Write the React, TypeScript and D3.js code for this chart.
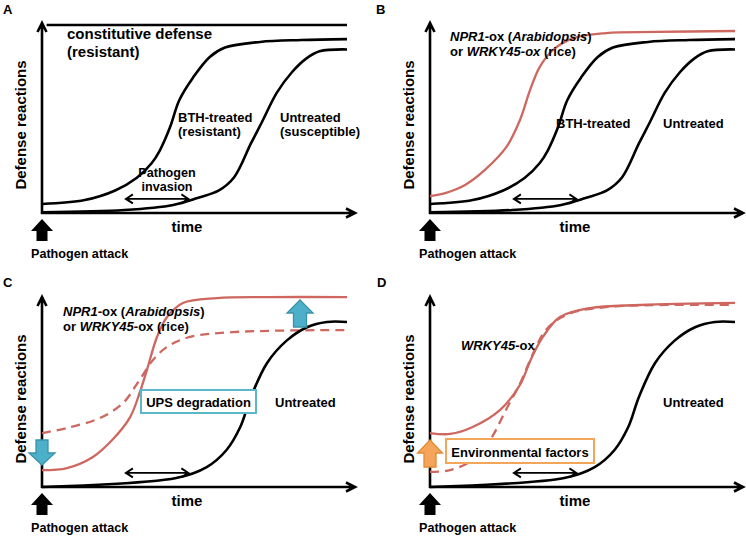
import React from "react";
import * as d3 from "d3";

type P = { t: number; v: number };
const mk = (t: number[], v: number[]): P[] => t.map((tt, i) => ({ t: tt, v: v[i] }));

// time (0-100) and defense level (0-100)
const constitutiveT = [1.5, 100];
const constitutiveV = [100, 100];

const bthT = [0, 14, 24, 31, 36, 38.7, 42, 45, 49.5, 55, 60, 71.5, 85, 100];
const bthV = [4.8, 6.9, 12, 18.6, 26.6, 33.5, 45.7, 60, 72, 83, 88, 91, 92, 92.5];

const untreatedABT = [0, 27, 43, 51, 58, 63, 68.5, 72, 77, 82, 86.5, 91, 100];
const untreatedABV = [0.4, 1.6, 4.3, 8, 12, 19, 37, 48, 64, 75, 82, 86, 87];

const npr1BT = [0, 5, 11.5, 18, 25, 29.5, 32.8, 36, 40.3, 47, 57.7, 74, 100];
const npr1BV = [9, 10.6, 14.9, 22.9, 35, 49.5, 65.4, 77.7, 86.7, 93, 95.7, 96.3, 96.8];

const npr1CT = [0, 8.2, 16.7, 23, 28.9, 32, 34.4, 37.7, 41, 46.2, 57.4, 73.8, 100];
const npr1CV = [9, 10.1, 16, 25, 37.2, 50, 62.2, 79.8, 90.4, 97.9, 100.5, 101, 101];

const npr1DegT = [0, 8.2, 19, 26.6, 32, 36.4, 41, 48.5, 62.6, 100];
const npr1DegV = [28.7, 31.4, 36.7, 44.7, 57, 67.6, 74.5, 79.8, 82.4, 83.5];

const untreatedCDT = [0, 44, 54, 60.5, 65, 68.5, 73.8, 80.3, 86.9, 93.4, 100];
const untreatedCDV = [0, 4.8, 10.6, 19.7, 31.9, 47.9, 66, 78, 85, 87.8, 87.8];

const wrkyEnvT = [0, 6.6, 14, 23, 29.5, 33, 37, 42.6, 52.5, 68.9, 100];
const wrkyEnvV = [28.7, 28.2, 31.9, 41, 54.3, 67.6, 79.8, 90.4, 95.2, 96.8, 97.9];

const wrkyT = [0, 6.6, 14, 19.7, 24.9, 29.5, 33.8, 38, 44.6, 57.7, 100];
const wrkyV = [8, 9, 14.4, 25, 41, 55, 71, 83.5, 91.5, 95.7, 96.8];

const invasionT = [27.5, 48];
const invasionV = 7.5;

const FONT = "'Liberation Sans', Arial, Helvetica, sans-serif";
const RED = "#cd675f";
const BLACK = "#000";

const x = d3.scaleLinear().domain([0, 100]).range([42, 347]);
const y = d3.scaleLinear().domain([0, 100]).range([213, 25]);
const line = d3
  .line<P>()
  .x((d) => x(d.t))
  .y((d) => y(d.v))
  .curve(d3.curveCatmullRom.alpha(0.5));

function Curve({ data, color, dashed, width }: { data: P[]; color: string; dashed?: boolean; width?: number }) {
  return (
    <path
      d={line(data) || ""}
      fill="none"
      stroke={color}
      strokeWidth={width ?? 2.6}
      strokeDasharray={dashed ? "9 6" : undefined}
      strokeLinecap="butt"
    />
  );
}

function DoubleArrow() {
  const x1 = x(invasionT[0]);
  const x2 = x(invasionT[1]);
  const yy = y(invasionV);
  const d = `M${x1},${yy}L${x2},${yy}M${x1 + 7},${yy - 4.5}L${x1},${yy}L${x1 + 7},${yy + 4.5}M${x2 - 7},${yy - 4.5}L${x2},${yy}L${x2 - 7},${yy + 4.5}`;
  return <path d={d} fill="none" stroke={BLACK} strokeWidth={1.9} />;
}

function BlockArrow({ cx, tip, base, bottom, head, shaft, fill, stroke }: any) {
  const d = `M${cx},${tip}L${cx + head},${base}L${cx + shaft},${base}L${cx + shaft},${bottom}L${cx - shaft},${bottom}L${cx - shaft},${base}L${cx - head},${base}Z`;
  return <path d={d} fill={fill} stroke={stroke} strokeWidth={stroke ? 1.3 : 0} strokeLinejoin="miter" />;
}

function Frame() {
  const x0 = x(0);
  const y0 = y(0);
  return (
    <g>
      <path
        d={`M${x0},${y0 + 1}L${x0},23M${x0 - 4.5},32L${x0},23L${x0 + 4.5},32M${x0 - 1},${y0}L355,${y0}M346,${y0 - 4.5}L355,${y0}L346,${y0 + 4.5}`}
        fill="none"
        stroke={BLACK}
        strokeWidth={2.6}
      />
      <BlockArrow cx={x0} tip={219} base={231} bottom={241} head={11} shaft={5.5} fill={BLACK} />
      <text x={25.5} y={125} transform="rotate(-90 25.5 125)" textAnchor="middle" fontSize={15} fontWeight="bold" fontFamily={FONT}>
        Defense reactions
      </text>
      <text x={187} y={232} textAnchor="middle" fontSize={15} fontWeight="bold" fontFamily={FONT}>
        time
      </text>
      <text x={31} y={258} fontSize={12.6} fontWeight="bold" fontFamily={FONT}>
        Pathogen attack
      </text>
    </g>
  );
}

const T = (props: any) => <text fontFamily={FONT} fontWeight="bold" fontSize={13} {...props} />;

export default function App() {
  const constitutive = mk(constitutiveT, constitutiveV);
  const bth = mk(bthT, bthV);
  const untAB = mk(untreatedABT, untreatedABV);
  const npr1B = mk(npr1BT, npr1BV);
  const npr1C = mk(npr1CT, npr1CV);
  const npr1Deg = mk(npr1DegT, npr1DegV);
  const untCD = mk(untreatedCDT, untreatedCDV);
  const wrkyEnv = mk(wrkyEnvT, wrkyEnvV);
  const wrky = mk(wrkyT, wrkyV);

  return (
    <svg width={746} height={541} style={{ position: "absolute", left: 0, top: 0, background: "#fff" }}>
      <rect width={746} height={541} fill="#fff" />
      {/* panel letters */}
      <T x={3} y={14} fontSize={13}>A</T>
      <T x={376} y={14} fontSize={13}>B</T>
      <T x={3} y={287} fontSize={13}>C</T>
      <T x={377} y={287} fontSize={13}>D</T>

      {/* Panel A */}
      <g transform="translate(0,0)">
        <Frame />
        <Curve data={constitutive} color={BLACK} />
        <Curve data={bth} color={BLACK} />
        <Curve data={untAB} color={BLACK} />
        <DoubleArrow />
        <T x={67} y={39} fontSize={15}>constitutive defense</T>
        <T x={67} y={57} fontSize={15}>(resistant)</T>
        <T x={178} y={122}>BTH-treated</T>
        <T x={178} y={136}>(resistant)</T>
        <T x={280} y={122}>Untreated</T>
        <T x={280} y={136}>(susceptible)</T>
        <T x={167} y={176.5} textAnchor="middle" fontSize={12.6}>Pathogen</T>
        <T x={167} y={191} textAnchor="middle" fontSize={12.6}>invasion</T>
      </g>

      {/* Panel B */}
      <g transform="translate(388,0)">
        <Frame />
        <Curve data={npr1B} color={RED} width={2.3} />
        <Curve data={bth} color={BLACK} />
        <Curve data={untAB} color={BLACK} />
        <DoubleArrow />
        <T x={62} y={41}>
          <tspan fontStyle="italic">NPR1</tspan>-ox (<tspan fontStyle="italic">Arabidopsis</tspan>)
        </T>
        <T x={62} y={56}>
          or <tspan fontStyle="italic">WRKY45-ox</tspan> (rice)
        </T>
        <T x={168} y={128}>BTH-treated</T>
        <T x={275} y={128}>Untreated</T>
      </g>

      {/* Panel C */}
      <g transform="translate(0,274)">
        <Frame />
        <Curve data={npr1C} color={RED} width={2.3} />
        <Curve data={npr1Deg} color={RED} width={2.3} dashed />
        <Curve data={untCD} color={BLACK} />
        <DoubleArrow />
        <T x={63} y={42}>
          <tspan fontStyle="italic">NPR1</tspan>-ox (<tspan fontStyle="italic">Arabidopsis</tspan>)
        </T>
        <T x={63} y={57}>
          or <tspan fontStyle="italic">WRKY45</tspan>-ox (rice)
        </T>
        <rect x={141} y={116} width={115} height={23} fill="#fff" stroke="#5ab8c9" strokeWidth={2} />
        <T x={198.5} y={133} textAnchor="middle">UPS degradation</T>
        <T x={275} y={133}>Untreated</T>
        <BlockArrow cx={42} tip={191} base={179} bottom={166} head={13} shaft={6} fill="#4cb0ca" stroke="#3a92a8" />
        <BlockArrow cx={300} tip={26} base={39} bottom={53} head={13} shaft={6.5} fill="#4cb0ca" stroke="#3a92a8" />
      </g>

      {/* Panel D */}
      <g transform="translate(388,274)">
        <Frame />
        <Curve data={wrkyEnv} color={RED} width={2.3} />
        <Curve data={wrky} color={RED} width={2.3} dashed />
        <Curve data={untCD} color={BLACK} />
        <DoubleArrow />
        <T x={73} y={76}>
          <tspan fontStyle="italic">WRKY45</tspan>-ox
        </T>
        <T x={275} y={133}>Untreated</T>
        <rect x={58} y={165} width={148} height={24} fill="#fff" stroke="#f2a65a" strokeWidth={2} />
        <T x={132} y={183} textAnchor="middle">Environmental factors</T>
        <BlockArrow cx={42} tip={166} base={179} bottom={193} head={12.5} shaft={6} fill="#f5a55b" stroke="#e28a35" />
      </g>
    </svg>
  );
}
